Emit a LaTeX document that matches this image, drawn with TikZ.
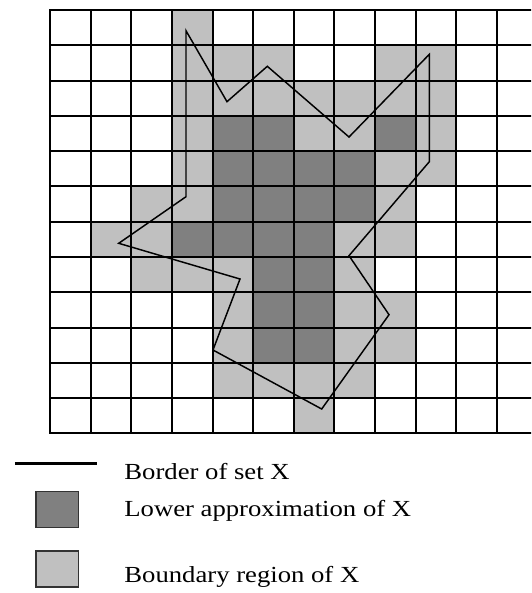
\documentclass[tikz,border=0pt]{standalone}
\usepackage{fontspec}
\setmainfont{Liberation Serif}
\usetikzlibrary{positioning}

\definecolor{lowgray}{HTML}{808080}
\definecolor{boundgray}{HTML}{C0C0C0}

\begin{document}
\begin{tikzpicture}[
            x=30.435pt, y=-26.46pt,
            gridline/.style={line width=1.5pt, line cap=rect},
            setborder/.style={line width=1.1pt, line join=miter},
            keybox/.style={draw=black!80, line width=1.1pt, minimum width=32pt, minimum height=27pt, inner sep=0pt},
            keytext/.style={anchor=base west, inner sep=0pt, font=\fontsize{17.25}{20}\selectfont, xscale=1.16, transform shape}
        ]
            \clip (-1.2396,-0.2834) rectangle (11.846,16.525);

            % Boundary region cells
            \foreach \c/\r in {3/0, 3/1, 4/1, 5/1, 8/1, 9/1,
                               3/2, 4/2, 5/2, 6/2, 7/2, 8/2, 9/2,
                               3/3, 6/3, 7/3, 9/3, 3/4, 8/4, 9/4,
                               2/5, 3/5, 8/5, 1/6, 2/6, 7/6, 8/6,
                               2/7, 3/7, 4/7, 7/7, 4/8, 7/8, 8/8,
                               4/9, 7/9, 8/9, 4/10, 5/10, 6/10, 7/10, 6/11}
                \fill[boundgray] (\c,\r) rectangle ++(1,1);

            % Lower approximation cells
            \foreach \c/\r in {4/3, 5/3, 8/3, 4/4, 5/4, 6/4, 7/4,
                               4/5, 5/5, 6/5, 7/5, 3/6, 4/6, 5/6, 6/6,
                               5/7, 6/7, 5/8, 6/8, 5/9, 6/9}
                \fill[lowgray] (\c,\r) rectangle ++(1,1);

            % Grid
            \foreach \i in {0,...,12}
                \draw[gridline] (\i,0) -- (\i,12);
            \foreach \j in {0,...,12}
                \draw[gridline] (0,\j) -- (12,\j);

            % Border of the set
            \draw[setborder] (3.344,0.587) -- (4.354,2.599) -- (5.348,1.596)
                -- (7.361,3.600) -- (9.340,1.256) -- (9.340,4.300)
                -- (7.361,6.964) -- (8.347,8.637) -- (6.688,11.310)
                -- (4.009,9.637) -- (4.675,7.625) -- (1.686,6.613)
                -- (3.344,5.292) -- cycle;

            % Legend
            \coordinate (linea) at (-0.870,12.849);
            \coordinate (lineb) at (1.143,12.849);
            \draw[line width=2pt] (linea) -- (lineb);
            \node[keybox, fill=lowgray] (lowkey) at (0.1737,14.164) {};
            \node[keybox, fill=boundgray] (boundkey) at (0.1737,15.840) {};

            \node[keytext] (bordertext) at (1.8186,13.303) {Border of set X};
            \node[keytext] (lowtext) at (1.8186,14.362) {Lower approximation of X};
            \node[keytext] (boundtext) at (1.8186,16.233) {Boundary region of X};
        \end{tikzpicture}
\end{document}
